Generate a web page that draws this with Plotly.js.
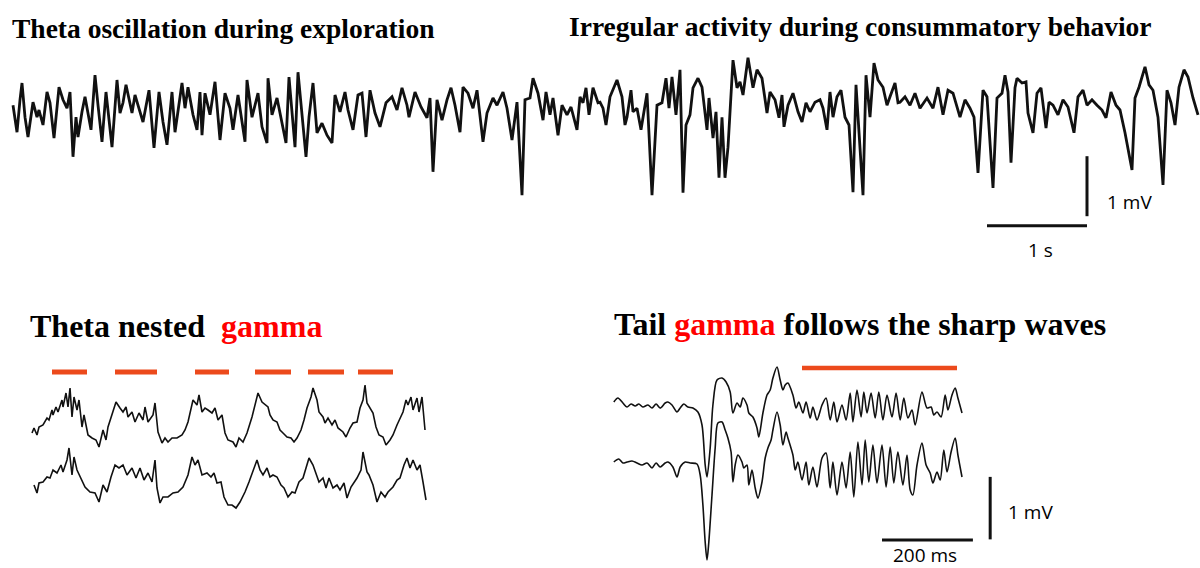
<!DOCTYPE html>
<html><head><meta charset="utf-8">
<script src="https://cdn.plot.ly/plotly-3.0.1.min.js"></script>
<style>html,body{margin:0;padding:0;background:#fff}#chart{width:1200px;height:568px}</style>
</head><body><div id="chart"></div>
<script>
// ---- Top recording: time (s) and LFP (mV) ----
const topTime = [0.03,0.07,0.10,0.12,0.15,0.18,0.23,0.27,0.29,0.33,0.37,0.40,0.44,0.49,0.53,0.57,0.60,0.63,0.66,0.68,0.72,0.75,0.81,0.85,0.88,0.92,0.96,1.02,1.07,1.10,1.13,1.16,1.22,1.25,1.28,1.33,1.39,1.44,1.49,1.53,1.57,1.62,1.65,1.72,1.75,1.78,1.83,1.87,1.90,1.92,1.95,2.00,2.05,2.10,2.15,2.20,2.23,2.28,2.35,2.37,2.42,2.48,2.52,2.57,2.58,2.62,2.67,2.72,2.76,2.79,2.83,2.85,2.88,
2.96,2.99,3.03,3.07,3.12,3.17,3.22,3.25,3.30,3.35,3.38,3.43,3.48,3.52,3.56,3.60,3.65,3.70,3.76,3.82,3.87,3.92,3.97,3.99,4.05,4.11,4.17,4.20,4.23,4.27,4.32,4.37,4.41,4.45,4.50,4.53,4.58,4.63,4.67,4.73,4.77,4.83,4.87,4.93,4.97,5.02,5.07,5.12,5.15,5.20,5.23,5.28,5.33,5.36,5.40,5.43,5.48,5.52,5.57,5.61,5.67,5.70,5.73,5.76,5.79,5.83,5.88,
5.90,5.93,5.96,6.00,6.07,6.12,6.15,6.17,6.21,6.23,6.27,6.31,6.37,6.42,6.47,6.52,6.56,6.59,6.62,6.66,6.70,6.73,6.76,6.80,6.83,6.88,6.92,6.97,6.99,7.03,7.06,7.09,7.12,7.15,7.18,7.23,7.27,7.30,7.33,7.38,7.43,7.47,7.52,7.57,7.60,7.65,7.69,7.72,7.74,7.78,7.83,7.88,7.92,7.96,8.00,8.05,8.10,8.13,8.17,8.20,8.23,8.27,8.31,8.35,8.39,8.43,8.46,8.53,8.56,8.60,8.64,8.68,8.73,8.77,8.80,8.85,8.88,
8.90,8.95,9.00,9.05,9.10,9.17,9.23,9.28,9.33,9.38,9.43,9.50,9.55,9.60,9.64,9.68,9.73,9.77,9.83,9.87,9.92,9.95,9.98,10.01,10.05,10.07,10.12,10.16,10.18,10.23,10.27,10.31,10.36,10.39,10.43,10.48,10.53,10.58,10.64,10.68,10.73,10.77,10.82,10.87,10.92,10.96,11.01,11.06,11.10,11.15,11.22,11.25,11.29,11.35,11.39,11.43,11.48,11.53,11.57,11.61,11.65,11.69,11.74,11.78,11.83,11.88];
const topMV = [0.08,-0.37,0.17,0.45,-0.12,-0.45,0.13,-0.12,0,-0.25,0.30,0.12,-0.47,0.38,0.17,0.03,0.30,-0.78,-0.12,-0.45,-0.03,0.22,-0.33,0.58,0.08,-0.53,0.30,-0.62,0.50,-0.05,0.12,0.42,-0.05,0.25,0.08,-0.20,0.33,-0.63,0.30,-0.20,-0.58,0.30,-0.37,0.45,0.03,0.38,-0.08,-0.33,0.30,-0.42,0.28,-0.08,0.47,-0.50,0.28,0.03,-0.33,0.25,-0.53,0.50,-0.12,0.28,-0.28,-0.55,0.53,-0.08,0.20,-0.25,-0.55,0.55,-0.33,-0.62,0.63,
-0.78,-0.12,0.45,-0.38,-0.22,-0.42,-0.55,0.25,-0.03,0.30,0,-0.33,0.25,0.28,-0.45,0.33,-0.05,-0.28,0.12,0.22,0,0.37,0.08,-0.12,0.30,0.05,-0.13,0.20,-1.03,0.17,-0.17,0.17,0.37,0.08,-0.37,0.38,0.28,0.03,0.33,-0.53,-0.05,0.20,0.08,0.30,0.03,-0.50,0.13,-1.42,0.17,0.20,0.53,0.28,-0.17,0.30,-0.08,0.20,-0.42,0.08,-0.08,0.05,-0.33,0.22,0.12,0.37,-0.08,0.37,0.12,
0.13,0.03,-0.25,0.22,0.50,0.22,-0.25,-0.12,0.33,-0.03,0.03,-0.33,0.28,-1.42,0.08,0.12,0.53,0.03,0.55,-0.08,0.67,-1.38,-0.25,-0.08,0.37,0.53,0.38,-0.33,0.20,-0.47,-0.03,-1.13,-0.12,-1.13,-0.62,0.83,0.37,0.47,0.25,0.87,0.37,0.67,0.53,-0.05,0.30,0.17,-0.13,0.25,-0.28,0.08,0.28,-0.03,-0.20,0.12,-0.03,0.13,0.17,0.03,-0.33,0.30,-0.12,0.22,0.33,-0.12,-0.25,-1.37,0.42,-1.42,0.58,-0.12,0.78,0.50,0.38,0.08,0.22,0.45,0.12,
0.13,0.22,0.08,0.28,0.03,0.20,0.03,0.38,-0.08,0.33,0.28,-0.12,0.17,0.03,-0.12,-1.05,0.33,0.22,-1.30,0.20,0.28,0.58,0.30,-0.88,0.37,0.53,0.45,0.47,-0.05,-0.38,0.28,0.37,-0.30,0.13,0.08,-0.08,0.17,0.05,-0.38,0.22,0.33,0.08,0.17,0.08,0,-0.13,0.30,0.08,0,-0.38,-1.00,0.20,0.38,0.72,0.42,0.33,-0.12,-1.25,0.33,0.12,-0.25,0.38,0.67,0.55,0.20,-0.08];

// ---- Bottom left: theta nested gamma, time (ms), amplitude (µV) ----
const blUpperTime = [4,8,14,18,26,34,38,44,46,52,56,64,66,72,76,80,84,88,94,98,104,108,116,124,132,138,146,152,156,164,172,180,186,192,196,204,210,218,226,230,236,246,250,256,264,270,276,284,294,304,310,316,322,326,334,338,344,350,356,364,370,376,384,390,396,406,412,418,426,434,444,450,456,464,470,476,480,486,494,500,506,514,522,528,534,542,548,554,562,566,574,578,586,590,596,604,610,616,626,632,640,646,654,660,666,670,674,680,686,692,698,706,712,720,726,734,740,746,752,756,762,766,774,778,784,790];
const blUpperUV = [-260,-160,-300,-140,-100,40,0,200,100,260,160,400,260,540,260,640,60,460,200,400,-140,100,-300,-360,-400,-540,-200,-400,-140,100,360,240,160,260,60,160,-40,140,0,260,-40,100,340,-240,-460,-360,-440,-360,-360,-300,-200,-40,260,400,300,500,160,240,200,140,240,0,100,-260,-400,-440,-540,-360,-440,-260,60,300,540,360,300,260,100,0,-40,-200,-260,-340,-360,-440,-360,-200,0,240,460,640,400,160,60,-60,40,-100,0,-160,-240,-340,-160,-60,-40,240,400,700,340,240,140,-140,-300,-340,-500,-400,-300,-100,40,160,400,300,460,200,440,160,460,-200];
const blLowerTime = [8,14,18,26,34,40,46,54,62,66,74,78,84,88,94,102,110,120,130,138,146,154,162,170,178,186,194,204,212,220,228,236,244,250,254,260,266,276,286,296,306,316,324,330,336,344,354,362,368,374,382,388,396,404,412,420,430,438,446,454,460,466,474,480,486,494,502,508,516,524,530,538,546,554,558,566,572,578,586,592,598,606,614,620,628,634,642,648,654,662,666,674,678,686,694,702,710,716,726,734,740,748,754,760,766,774,780,786,792];
const blLowerUV = [-200,-360,-160,-140,-40,-60,100,40,200,60,300,540,0,360,100,-60,-240,-340,-360,-540,-200,-340,-40,200,140,200,0,140,-60,140,-100,40,-140,300,-260,-560,-440,-440,-360,-340,-240,0,360,200,300,0,40,-40,40,-160,-140,-440,-600,-600,-660,-540,-340,-140,100,300,100,0,140,-40,0,-40,-200,-260,-440,-340,-360,-140,-60,240,340,200,40,-140,-60,-260,-60,-260,-200,-300,-160,-460,-240,-160,-60,100,460,60,0,-200,-540,-340,-440,-340,-240,-100,-60,200,340,140,300,100,200,-140,-500];
const blGammaStart = [44,170,330,450,556,656];
const blGammaEnd   = [114,254,398,522,628,726];

// ---- Bottom right: tail gamma after sharp wave, time (ms), amplitude (µV) ----
const brUpperTime = [4,13,24,33,42,51,59,68,79,88,97,106,117,123,132,143,150,158,167,178,189,198,205,209,216,222,231,242,251,260,266,275,282,288,297,301,310,319,323,332,341,348,354,363,370,376,381,387,398,405,411,420,427,436,442,451,462,471,480,488,495,506,515,524,530,539,548,554,561,570,579,587,596,605,616,625,634,642,651,660,667,682,693,702,708,715,724,733,739,748,755,761,770];
const brUpperUV = [48,112,32,-32,16,-16,16,-32,0,-48,16,-48,32,48,0,-112,-48,16,-32,-48,-112,-320,-960,-1152,-688,0,400,432,368,208,-128,32,-32,112,0,-128,-192,-368,-512,-128,160,240,432,608,400,240,320,352,160,-48,48,-128,48,-208,-32,-240,0,112,-240,48,-272,0,-240,192,-272,240,-192,208,-128,192,-208,208,-240,160,-192,192,-240,112,-208,-80,-320,208,-48,-32,-160,-112,-192,160,-80,160,272,112,-128];
const brLowerTime = [4,15,24,33,44,55,66,77,88,97,106,117,123,134,143,150,161,172,187,194,200,205,209,213,220,227,233,242,249,255,262,266,271,277,286,290,297,301,308,315,321,330,337,343,350,354,363,370,376,383,387,398,403,409,418,427,433,442,451,462,471,480,486,495,506,515,524,532,541,550,557,565,574,583,594,603,612,620,629,640,649,656,662,671,682,691,700,706,715,722,730,737,746,755,761,770];
const brLowerUV = [0,48,-16,0,16,-16,-48,-16,-96,-16,-80,-16,0,-80,-240,-80,0,-16,-32,-208,-688,-1280,-1568,-1280,-528,224,624,640,512,384,160,-320,-48,112,0,-96,-48,-368,-128,-416,-576,-320,64,224,352,512,800,592,272,480,384,112,-128,0,-288,0,-368,-80,-400,64,144,-416,0,-528,0,-416,160,-560,320,-368,352,-320,272,-336,272,-400,240,-336,160,-368,112,-448,-528,-48,304,-48,-176,-336,-160,-288,192,-160,160,384,112,-240];
const brGammaStart = [418];
const brGammaEnd   = [759];

// ---- text ----
const titleTopLeft = 'Theta oscillation during exploration';
const titleTopRight = 'Irregular activity during consummatory behavior';
const titleBottomLeft = 'Theta nested&nbsp; <span style="color:#ff0000">gamma</span>';
const titleBottomRight = 'Tail <span style="color:#ff0000">gamma</span> follows the sharp waves';

// ---- layout constants (positions/styles) ----
const blTraceOffset = -1100;   // vertical separation of the two bottom-left channels (µV)
const brTraceOffset = -912;    // vertical separation of the two bottom-right channels (µV)
const blGammaLevel = 960, brGammaLevel = 592;
const BLACK = '#111111', ORANGE = '#ec4a1c';

function bars(starts, ends, level) {
  const x = [], y = [];
  starts.forEach((s, i) => { x.push(s, ends[i], null); y.push(level, level, null); });
  return {x, y};
}
const blBars = bars(blGammaStart, blGammaEnd, blGammaLevel);
const brBars = bars(brGammaStart, brGammaEnd, brGammaLevel);

const smooth = {color: BLACK, width: 1.6, shape: 'spline', smoothing: 0.8};
const data = [
  {x: topTime, y: topMV, xaxis: 'x', yaxis: 'y', mode: 'lines', line: {color: BLACK, width: 2.8}, hoverinfo: 'skip'},
  {x: blUpperTime, y: blUpperUV, xaxis: 'x2', yaxis: 'y2', mode: 'lines', line: {color: BLACK, width: 1.6}, hoverinfo: 'skip'},
  {x: blLowerTime, y: blLowerUV.map(v => v + blTraceOffset), xaxis: 'x2', yaxis: 'y2', mode: 'lines', line: {color: BLACK, width: 1.6}, hoverinfo: 'skip'},
  {x: blBars.x, y: blBars.y, xaxis: 'x2', yaxis: 'y2', mode: 'lines', line: {color: ORANGE, width: 5}, hoverinfo: 'skip'},
  {x: brUpperTime, y: brUpperUV, xaxis: 'x3', yaxis: 'y3', mode: 'lines', line: smooth, hoverinfo: 'skip'},
  {x: brLowerTime, y: brLowerUV.map(v => v + brTraceOffset), xaxis: 'x3', yaxis: 'y3', mode: 'lines', line: smooth, hoverinfo: 'skip'},
  {x: brBars.x, y: brBars.y, xaxis: 'x3', yaxis: 'y3', mode: 'lines', line: {color: ORANGE, width: 4.5}, hoverinfo: 'skip'}
];

const hidden = {visible: false, fixedrange: true};
const serif = 'Liberation Serif, Times New Roman, serif';
const sans = 'Open Sans, Liberation Sans, sans-serif';

const layout = {
  width: 1200, height: 568,
  margin: {l: 0, r: 0, t: 0, b: 0},
  paper_bgcolor: '#ffffff', plot_bgcolor: 'rgba(0,0,0,0)',
  showlegend: false,
  xaxis:  Object.assign({domain: [0, 1], range: [-0.1, 11.9], anchor: 'y'}, hidden),
  yaxis:  Object.assign({domain: [0.52465, 0.92958], range: [-2.6667, 1.1667], anchor: 'x'}, hidden),
  xaxis2: Object.assign({domain: [0, 1], range: [-60, 2340], anchor: 'y2'}, hidden),
  yaxis2: Object.assign({domain: [0, 0.40141], range: [-2960, 1600], anchor: 'x2'}, hidden),
  xaxis3: Object.assign({domain: [0, 1], range: [-1346.4, 1293.6], anchor: 'y3'}, hidden),
  yaxis3: Object.assign({domain: [0, 0.40141], range: [-2608, 1040], anchor: 'x3'}, hidden),
  shapes: [
    {type: 'line', xref: 'x', yref: 'y', x0: 10.77, x1: 10.77, y0: -0.77, y1: -1.77, line: {color: BLACK, width: 3}},
    {type: 'line', xref: 'x', yref: 'y', x0: 9.77, x1: 10.77, y0: -1.93, y1: -1.93, line: {color: BLACK, width: 3}},
    {type: 'line', xref: 'x3', yref: 'y3', x0: 832, x1: 832, y0: -1150, y1: -2150, line: {color: BLACK, width: 3}},
    {type: 'line', xref: 'x3', yref: 'y3', x0: 594, x1: 794, y0: -2160, y1: -2160, line: {color: BLACK, width: 3}}
  ],
  annotations: [
    {xref: 'paper', yref: 'paper', x: 0.0083, y: 0.9507, xanchor: 'left', yanchor: 'middle', showarrow: false,
     text: '<b>' + titleTopLeft + '</b>', font: {family: serif, size: 27.5, color: '#000'}},
    {xref: 'paper', yref: 'paper', x: 0.4725, y: 0.9542, xanchor: 'left', yanchor: 'middle', showarrow: false,
     text: '<b>' + titleTopRight + '</b>', font: {family: serif, size: 27.5, color: '#000'}},
    {xref: 'paper', yref: 'paper', x: 0.0233, y: 0.426, xanchor: 'left', yanchor: 'middle', showarrow: false,
     text: '<b>' + titleBottomLeft + '</b>', font: {family: serif, size: 32, color: '#000'}},
    {xref: 'paper', yref: 'paper', x: 0.51, y: 0.4296, xanchor: 'left', yanchor: 'middle', showarrow: false,
     text: '<b>' + titleBottomRight + '</b>', font: {family: serif, size: 32, color: '#000'}},
    {xref: 'x', yref: 'y', x: 11.19, y: -1.53, showarrow: false, text: '1 mV', font: {family: sans, size: 19, color: '#000'}},
    {xref: 'x', yref: 'y', x: 10.30, y: -2.33, showarrow: false, text: '1 s', font: {family: sans, size: 19, color: '#000'}},
    {xref: 'x3', yref: 'y3', x: 920, y: -1712, showarrow: false, text: '1 mV', font: {family: sans, size: 19, color: '#000'}},
    {xref: 'x3', yref: 'y3', x: 689, y: -2400, showarrow: false, text: '200 ms', font: {family: sans, size: 19, color: '#000'}}
  ]
};

Plotly.newPlot('chart', data, layout, {staticPlot: true, displayModeBar: false});
</script></body></html>
